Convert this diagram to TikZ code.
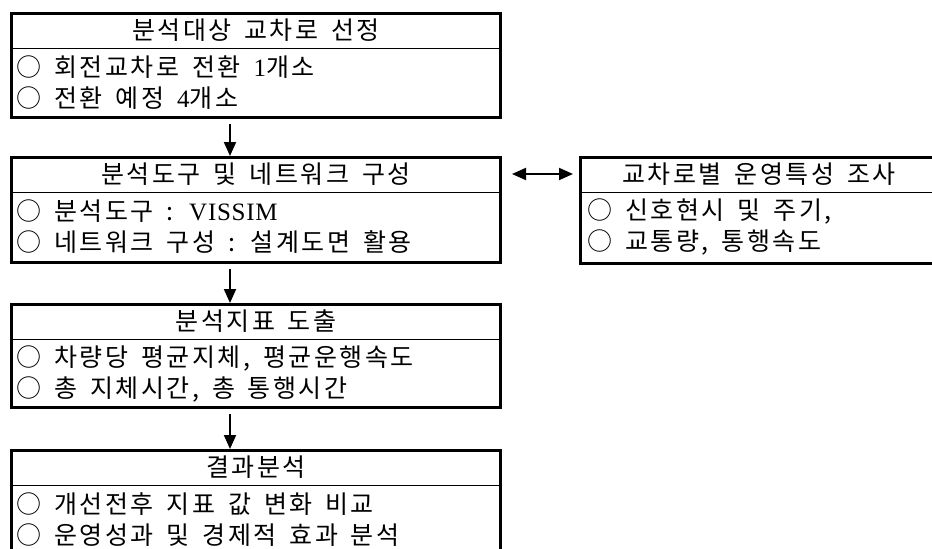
\documentclass[tikz,border=0pt]{standalone}
\usepackage{fontspec}
\setmainfont{Noto Sans CJK KR}[LetterSpace=10,WordSpace=1.6]
\newfontfamily\lat{Liberation Serif}[LetterSpace=3]
\usetikzlibrary{arrows.meta,calc}
\tikzset{
  box/.style={draw, line width=3pt, inner sep=0pt, anchor=north west},
  divline/.style={line width=1pt},
  headtxt/.style={inner sep=0pt, font=\fontsize{25pt}{28pt}\selectfont},
  itemtxt/.style={inner sep=0pt, anchor=west, font=\fontsize{25pt}{28pt}\selectfont},
  arr/.style={line width=2pt, -{Triangle[length=14pt,width=12pt]}},
  dblarr/.style={line width=2pt, {Triangle[length=14pt,width=12pt]}-{Triangle[length=14pt,width=12pt]}}
}
\begin{document}
\begin{tikzpicture}[x=1pt,y=-1pt]
\useasboundingbox (0,0) rectangle (932,549);
% boxes
\node[box, minimum width=489pt, minimum height=104pt] (b1) at (10,12) {};
\node[box, minimum width=489pt, minimum height=105pt] (b2) at (10,156) {};
\node[box, minimum width=356pt, minimum height=106pt] (b3) at (579,156) {};
\node[box, minimum width=489pt, minimum height=103pt] (b4) at (10,303) {};
\node[box, minimum width=489pt, minimum height=108pt] (b5) at (10,449) {};
% dividers
\foreach \b in {b1,b2,b3,b4,b5}{
  \draw[divline] ($(\b.north west)+(0,36)$) -- ($(\b.north east)+(0,36)$);
}
% headers
\node[headtxt] (h1) at ($(b1.north)+(0,18)$) {분석대상 교차로 선정};
\node[headtxt] (h2) at ($(b2.north)+(0,18)$) {분석도구 및 네트워크 구성};
\node[headtxt] (h3) at ($(b3.north west)+(180,18)$) {교차로별 운영특성 조사};
\node[headtxt] (h4) at ($(b4.north)+(0,18)$) {분석지표 도출};
\node[headtxt] (h5) at ($(b5.north)+(0,18)$) {결과분석};
% items
\node[itemtxt] (t1a) at ($(b1.north west)+(6,55)$) {○ 회전교차로 전환 {\lat 1}개소};
\node[itemtxt] (t1b) at ($(b1.north west)+(6,86)$) {○ 전환 예정 {\lat 4}개소};
\node[itemtxt] (t2a) at ($(b2.north west)+(6,55)$) {○ 분석도구 : {\lat VISSIM}};
\node[itemtxt] (t2b) at ($(b2.north west)+(6,86)$) {○ 네트워크 구성 : 설계도면 활용};
\node[itemtxt] (t3a) at ($(b3.north west)+(8,55)$) {○ 신호현시 및 주기,};
\node[itemtxt] (t3b) at ($(b3.north west)+(8,86)$) {○ 교통량, 통행속도};
\node[itemtxt] (t4a) at ($(b4.north west)+(6,55)$) {○ 차량당 평균지체, 평균운행속도};
\node[itemtxt] (t4b) at ($(b4.north west)+(6,86)$) {○ 총 지체시간, 총 통행시간};
\node[itemtxt] (t5a) at ($(b5.north west)+(6,55)$) {○ 개선전후 지표 값 변화 비교};
\node[itemtxt] (t5b) at ($(b5.north west)+(6,86)$) {○ 운영성과 및 경제적 효과 분석};
% connectors
\coordinate (ax) at (230,0);
\draw[arr, shorten <=5pt] (b1.south -| ax) -- (b2.north -| ax);
\draw[arr, shorten <=5pt] (b2.south -| ax) -- (b4.north -| ax);
\draw[arr, shorten <=5pt] (b4.south -| ax) -- (b5.north -| ax);
\draw[dblarr, shorten <=10pt, shorten >=6pt] (b2.east |- h2) -- (b3.west |- h3);
\end{tikzpicture}
\end{document}
